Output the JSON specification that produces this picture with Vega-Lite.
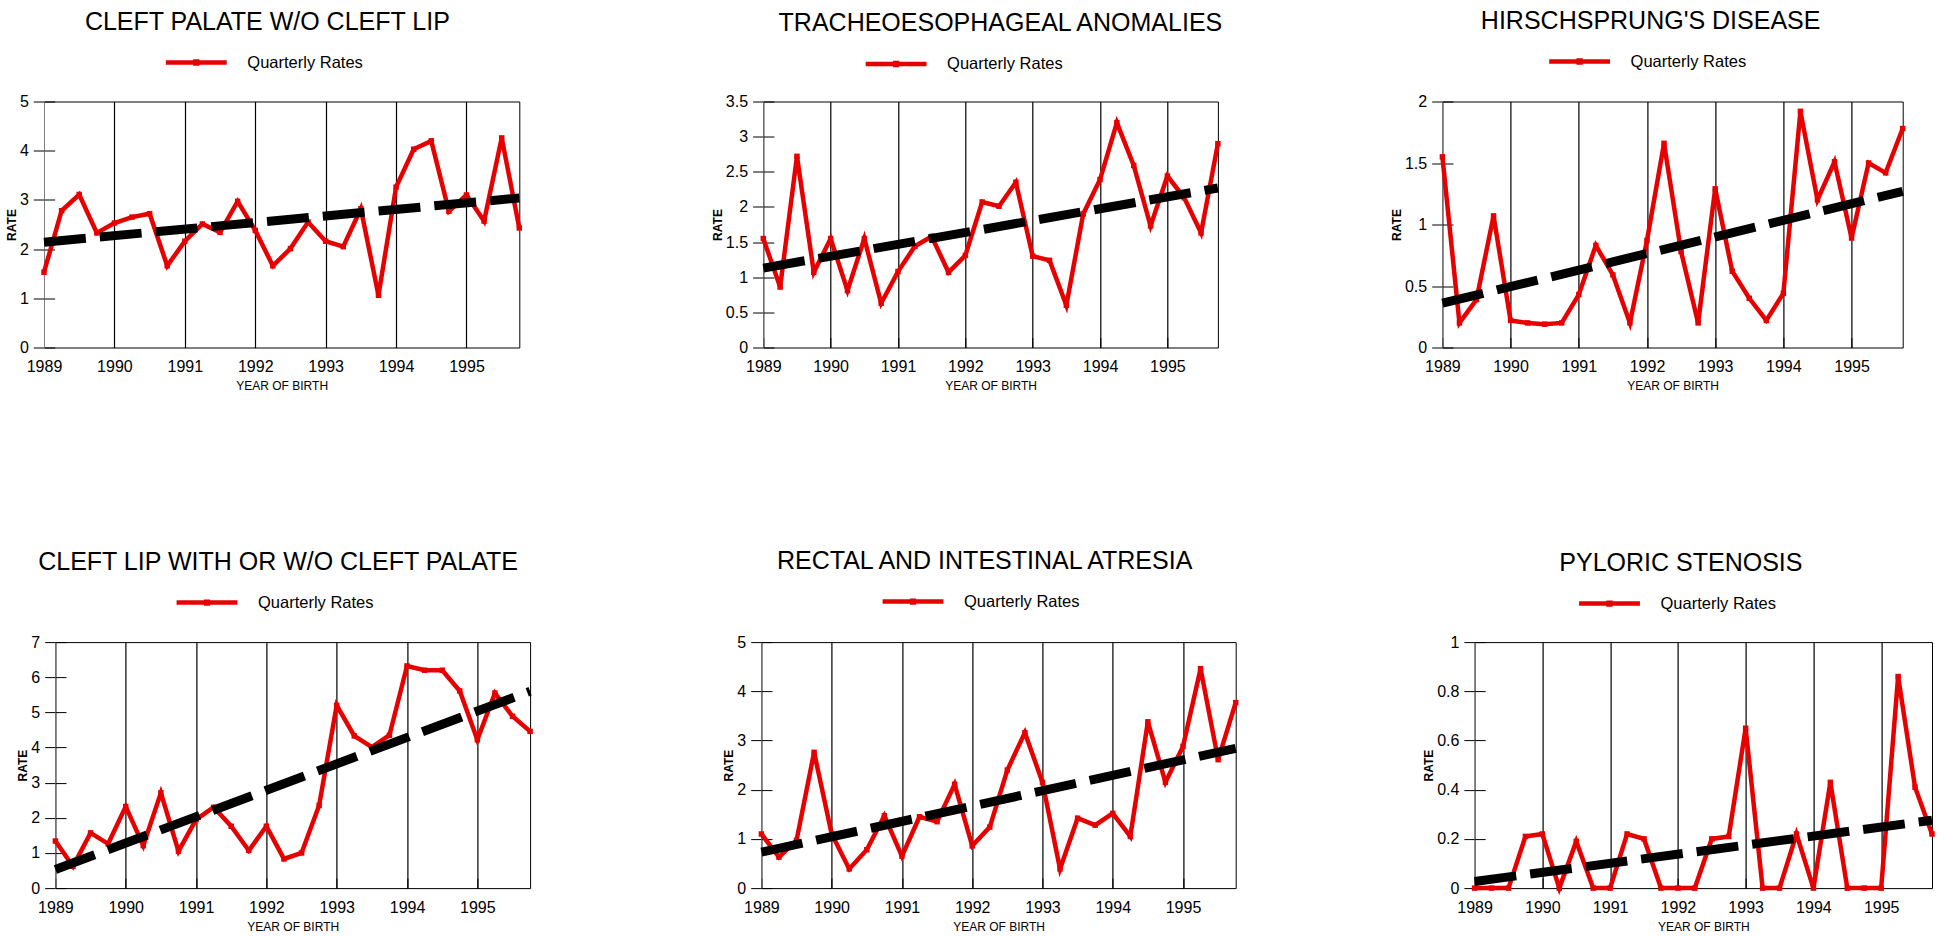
{
"$schema": "https://vega.github.io/schema/vega-lite/v6.json",
"autosize": {"type": "pad"},
"padding": {"left": 4, "top": 7.5, "right": 0, "bottom": 0},
"background": "#ffffff",
"datasets": {
"rates": [
{"panel":1,"time":1989,"rate":1.53},{"panel":1,"time":1989.25,"rate":2.78},{"panel":1,"time":1989.5,"rate":3.11},{"panel":1,"time":1989.75,"rate":2.33},
{"panel":1,"time":1990,"rate":2.53},{"panel":1,"time":1990.25,"rate":2.65},{"panel":1,"time":1990.5,"rate":2.72},{"panel":1,"time":1990.75,"rate":1.66},
{"panel":1,"time":1991,"rate":2.16},{"panel":1,"time":1991.25,"rate":2.51},{"panel":1,"time":1991.5,"rate":2.34},{"panel":1,"time":1991.75,"rate":2.97},
{"panel":1,"time":1992,"rate":2.38},{"panel":1,"time":1992.25,"rate":1.66},{"panel":1,"time":1992.5,"rate":2.01},{"panel":1,"time":1992.75,"rate":2.55},
{"panel":1,"time":1993,"rate":2.16},{"panel":1,"time":1993.25,"rate":2.05},{"panel":1,"time":1993.5,"rate":2.82},{"panel":1,"time":1993.75,"rate":1.06},
{"panel":1,"time":1994,"rate":3.26},{"panel":1,"time":1994.25,"rate":4.03},{"panel":1,"time":1994.5,"rate":4.20},{"panel":1,"time":1994.75,"rate":2.77},
{"panel":1,"time":1995,"rate":3.10},{"panel":1,"time":1995.25,"rate":2.57},{"panel":1,"time":1995.5,"rate":4.26},{"panel":1,"time":1995.75,"rate":2.43},
{"panel":2,"time":1989,"rate":1.55},{"panel":2,"time":1989.25,"rate":0.86},{"panel":2,"time":1989.5,"rate":2.72},{"panel":2,"time":1989.75,"rate":1.07},
{"panel":2,"time":1990,"rate":1.55},{"panel":2,"time":1990.25,"rate":0.81},{"panel":2,"time":1990.5,"rate":1.55},{"panel":2,"time":1990.75,"rate":0.63},
{"panel":2,"time":1991,"rate":1.08},{"panel":2,"time":1991.25,"rate":1.44},{"panel":2,"time":1991.5,"rate":1.58},{"panel":2,"time":1991.75,"rate":1.07},
{"panel":2,"time":1992,"rate":1.31},{"panel":2,"time":1992.25,"rate":2.07},{"panel":2,"time":1992.5,"rate":2.01},{"panel":2,"time":1992.75,"rate":2.35},
{"panel":2,"time":1993,"rate":1.30},{"panel":2,"time":1993.25,"rate":1.24},{"panel":2,"time":1993.5,"rate":0.60},{"panel":2,"time":1993.75,"rate":1.90},
{"panel":2,"time":1994,"rate":2.39},{"panel":2,"time":1994.25,"rate":3.20},{"panel":2,"time":1994.5,"rate":2.59},{"panel":2,"time":1994.75,"rate":1.73},
{"panel":2,"time":1995,"rate":2.44},{"panel":2,"time":1995.25,"rate":2.13},{"panel":2,"time":1995.5,"rate":1.63},{"panel":2,"time":1995.75,"rate":2.90},
{"panel":3,"time":1989,"rate":1.55},{"panel":3,"time":1989.25,"rate":0.20},{"panel":3,"time":1989.5,"rate":0.39},{"panel":3,"time":1989.75,"rate":1.07},
{"panel":3,"time":1990,"rate":0.22},{"panel":3,"time":1990.25,"rate":0.20},{"panel":3,"time":1990.5,"rate":0.19},{"panel":3,"time":1990.75,"rate":0.20},
{"panel":3,"time":1991,"rate":0.43},{"panel":3,"time":1991.25,"rate":0.83},{"panel":3,"time":1991.5,"rate":0.59},{"panel":3,"time":1991.75,"rate":0.20},
{"panel":3,"time":1992,"rate":0.87},{"panel":3,"time":1992.25,"rate":1.66},{"panel":3,"time":1992.5,"rate":0.78},{"panel":3,"time":1992.75,"rate":0.20},
{"panel":3,"time":1993,"rate":1.29},{"panel":3,"time":1993.25,"rate":0.62},{"panel":3,"time":1993.5,"rate":0.40},{"panel":3,"time":1993.75,"rate":0.22},
{"panel":3,"time":1994,"rate":0.44},{"panel":3,"time":1994.25,"rate":1.92},{"panel":3,"time":1994.5,"rate":1.20},{"panel":3,"time":1994.75,"rate":1.51},
{"panel":3,"time":1995,"rate":0.89},{"panel":3,"time":1995.25,"rate":1.50},{"panel":3,"time":1995.5,"rate":1.42},{"panel":3,"time":1995.75,"rate":1.78},
{"panel":4,"time":1989,"rate":1.34},{"panel":4,"time":1989.25,"rate":0.62},{"panel":4,"time":1989.5,"rate":1.57},{"panel":4,"time":1989.75,"rate":1.26},
{"panel":4,"time":1990,"rate":2.32},{"panel":4,"time":1990.25,"rate":1.21},{"panel":4,"time":1990.5,"rate":2.71},{"panel":4,"time":1990.75,"rate":1.05},
{"panel":4,"time":1991,"rate":1.95},{"panel":4,"time":1991.25,"rate":2.30},{"panel":4,"time":1991.5,"rate":1.76},{"panel":4,"time":1991.75,"rate":1.07},
{"panel":4,"time":1992,"rate":1.76},{"panel":4,"time":1992.25,"rate":0.83},{"panel":4,"time":1992.5,"rate":1.00},{"panel":4,"time":1992.75,"rate":2.35},
{"panel":4,"time":1993,"rate":5.20},{"panel":4,"time":1993.25,"rate":4.33},{"panel":4,"time":1993.5,"rate":4.01},{"panel":4,"time":1993.75,"rate":4.35},
{"panel":4,"time":1994,"rate":6.32},{"panel":4,"time":1994.25,"rate":6.20},{"panel":4,"time":1994.5,"rate":6.20},{"panel":4,"time":1994.75,"rate":5.61},
{"panel":4,"time":1995,"rate":4.22},{"panel":4,"time":1995.25,"rate":5.55},{"panel":4,"time":1995.5,"rate":4.89},{"panel":4,"time":1995.75,"rate":4.46},
{"panel":5,"time":1989,"rate":1.10},{"panel":5,"time":1989.25,"rate":0.63},{"panel":5,"time":1989.5,"rate":0.97},{"panel":5,"time":1989.75,"rate":2.76},
{"panel":5,"time":1990,"rate":1.10},{"panel":5,"time":1990.25,"rate":0.39},{"panel":5,"time":1990.5,"rate":0.78},{"panel":5,"time":1990.75,"rate":1.47},
{"panel":5,"time":1991,"rate":0.65},{"panel":5,"time":1991.25,"rate":1.45},{"panel":5,"time":1991.5,"rate":1.35},{"panel":5,"time":1991.75,"rate":2.11},
{"panel":5,"time":1992,"rate":0.86},{"panel":5,"time":1992.25,"rate":1.24},{"panel":5,"time":1992.5,"rate":2.40},{"panel":5,"time":1992.75,"rate":3.16},
{"panel":5,"time":1993,"rate":2.15},{"panel":5,"time":1993.25,"rate":0.39},{"panel":5,"time":1993.5,"rate":1.42},{"panel":5,"time":1993.75,"rate":1.28},
{"panel":5,"time":1994,"rate":1.52},{"panel":5,"time":1994.25,"rate":1.05},{"panel":5,"time":1994.5,"rate":3.38},{"panel":5,"time":1994.75,"rate":2.15},
{"panel":5,"time":1995,"rate":2.88},{"panel":5,"time":1995.25,"rate":4.46},{"panel":5,"time":1995.5,"rate":2.61},{"panel":5,"time":1995.75,"rate":3.77},
{"panel":6,"time":1989,"rate":0},{"panel":6,"time":1989.25,"rate":0},{"panel":6,"time":1989.5,"rate":0},{"panel":6,"time":1989.75,"rate":0.21},
{"panel":6,"time":1990,"rate":0.22},{"panel":6,"time":1990.25,"rate":0},{"panel":6,"time":1990.5,"rate":0.19},{"panel":6,"time":1990.75,"rate":0},
{"panel":6,"time":1991,"rate":0},{"panel":6,"time":1991.25,"rate":0.22},{"panel":6,"time":1991.5,"rate":0.20},{"panel":6,"time":1991.75,"rate":0},
{"panel":6,"time":1992,"rate":0},{"panel":6,"time":1992.25,"rate":0},{"panel":6,"time":1992.5,"rate":0.20},{"panel":6,"time":1992.75,"rate":0.21},
{"panel":6,"time":1993,"rate":0.65},{"panel":6,"time":1993.25,"rate":0},{"panel":6,"time":1993.5,"rate":0},{"panel":6,"time":1993.75,"rate":0.22},
{"panel":6,"time":1994,"rate":0},{"panel":6,"time":1994.25,"rate":0.43},{"panel":6,"time":1994.5,"rate":0},{"panel":6,"time":1994.75,"rate":0},
{"panel":6,"time":1995,"rate":0},{"panel":6,"time":1995.25,"rate":0.86},{"panel":6,"time":1995.5,"rate":0.41},{"panel":6,"time":1995.75,"rate":0.22}
],
"trend": [
{"panel":1,"time":1989,"rate":2.14},{"panel":1,"time":1995.75,"rate":3.04},
{"panel":2,"time":1989,"rate":1.13},{"panel":2,"time":1995.75,"rate":2.27},
{"panel":3,"time":1989,"rate":0.36},{"panel":3,"time":1995.75,"rate":1.27},
{"panel":4,"time":1989,"rate":0.53},{"panel":4,"time":1995.75,"rate":5.6},
{"panel":5,"time":1989,"rate":0.73},{"panel":5,"time":1995.75,"rate":2.84},
{"panel":6,"time":1989,"rate":0.027},{"panel":6,"time":1995.75,"rate":0.276}
],
"blank": [{"k": 0}]
},
"vconcat": [
{
"hconcat": [
{
"width": 475.3, "height": 246,
"title": {"text": "CLEFT PALATE W/O CLEFT LIP", "dx": -14.3},
"layer": [
{"data": {"name": "rates"}, "transform": [{"filter": "datum.panel == 1"}],
"mark": {"type": "line", "strokeWidth": 4.5, "point": {"shape": "square", "size": 30, "filled": true}},
"encoding": {
"x": {"field": "time", "type": "quantitative", "scale": {"domain": [1989, 1995.75], "nice": false, "zero": false},
"axis": {"values": [1989,1989.25,1989.5,1989.75,1990,1990.25,1990.5,1990.75,1991,1991.25,1991.5,1991.75,1992,1992.25,1992.5,1992.75,1993,1993.25,1993.5,1993.75,1994,1994.25,1994.5,1994.75,1995,1995.25,1995.5,1995.75],
"labelExpr": "datum.value % 1 === 0 ? format(datum.value, 'd') : ''", "grid": true, "labelFontSize": 16, "titleFontSize": 12,
"gridOpacity": {"condition": {"test": "datum.value % 1 === 0 && datum.value > 1989", "value": 1}, "value": 0},
"title": "YEAR OF BIRTH"}},
"y": {"field": "rate", "type": "quantitative", "scale": {"domain": [0, 5], "nice": false, "zero": true},
"axis": {"values": [0,1,2,3,4,5], "format": "~g", "tickSize": 10.7, "labelPadding": 5, "labelFontSize": 16, "title": "RATE", "titleFontSize": 12, "titleFontWeight": "bold", "titlePadding": 1, "domainColor": "#808080"}},
"color": {"datum": "Quarterly Rates", "scale": {"range": ["#e60000"]}, "legend": {"title": null, "legendX": 119.3, "legendY": -72}}
}},
{"data": {"name": "trend"}, "transform": [{"filter": "datum.panel == 1"}],
"mark": {"type": "line", "color": "#000000", "strokeWidth": 9, "strokeDash": [42, 14], "strokeCap": "butt"},
"encoding": {
"x": {"field": "time", "type": "quantitative"},
"y": {"field": "rate", "type": "quantitative", "axis": {"values": [0,1,2,3,4,5], "tickSize": -10.6, "labels": false, "domain": false, "title": null, "orient": "left"}}
}}
],
"resolve": {"axis": {"y": "independent"}}
},
{
"hconcat": [
{
"width": 454.6, "height": 246,
"title": {"text": "TRACHEOESOPHAGEAL ANOMALIES", "dx": 9.8},
"layer": [
{"data": {"name": "rates"}, "transform": [{"filter": "datum.panel == 2"}],
"mark": {"type": "line", "strokeWidth": 4.5, "point": {"shape": "square", "size": 30, "filled": true}},
"encoding": {
"x": {"field": "time", "type": "quantitative", "scale": {"domain": [1989, 1995.75], "nice": false, "zero": false},
"axis": {"values": [1989,1989.25,1989.5,1989.75,1990,1990.25,1990.5,1990.75,1991,1991.25,1991.5,1991.75,1992,1992.25,1992.5,1992.75,1993,1993.25,1993.5,1993.75,1994,1994.25,1994.5,1994.75,1995,1995.25,1995.5,1995.75],
"labelExpr": "datum.value % 1 === 0 ? format(datum.value, 'd') : ''", "grid": true, "labelFontSize": 16, "titleFontSize": 12,
"gridOpacity": {"condition": {"test": "datum.value % 1 === 0 && datum.value > 1989", "value": 1}, "value": 0},
"title": "YEAR OF BIRTH"}},
"y": {"field": "rate", "type": "quantitative", "scale": {"domain": [0, 3.5], "nice": false, "zero": true},
"axis": {"values": [0,0.5,1,1.5,2,2.5,3,3.5], "format": "~g", "tickSize": 10.7, "labelPadding": 5, "labelFontSize": 16, "title": "RATE", "titleFontSize": 12, "titleFontWeight": "bold", "titlePadding": 1, "domainColor": "#808080"}},
"color": {"datum": "Quarterly Rates", "scale": {"range": ["#e60000"]}, "legend": {"title": null, "legendX": 99.8, "legendY": -70.5}}
}},
{"data": {"name": "trend"}, "transform": [{"filter": "datum.panel == 2"}],
"mark": {"type": "line", "color": "#000000", "strokeWidth": 9, "strokeDash": [42, 14], "strokeCap": "butt"},
"encoding": {
"x": {"field": "time", "type": "quantitative"},
"y": {"field": "rate", "type": "quantitative", "axis": {"values": [0,0.5,1,1.5,2,2.5,3,3.5], "tickSize": -10.6, "labels": false, "domain": false, "title": null, "orient": "left"}}
}}
],
"resolve": {"axis": {"y": "independent"}}
},
{
"width": 460.3, "height": 246,
"title": {"text": "HIRSCHSPRUNG'S DISEASE", "dx": -21.9},
"layer": [
{"data": {"name": "rates"}, "transform": [{"filter": "datum.panel == 3"}],
"mark": {"type": "line", "strokeWidth": 4.5, "point": {"shape": "square", "size": 30, "filled": true}},
"encoding": {
"x": {"field": "time", "type": "quantitative", "scale": {"domain": [1989, 1995.75], "nice": false, "zero": false},
"axis": {"values": [1989,1989.25,1989.5,1989.75,1990,1990.25,1990.5,1990.75,1991,1991.25,1991.5,1991.75,1992,1992.25,1992.5,1992.75,1993,1993.25,1993.5,1993.75,1994,1994.25,1994.5,1994.75,1995,1995.25,1995.5,1995.75],
"labelExpr": "datum.value % 1 === 0 ? format(datum.value, 'd') : ''", "grid": true, "labelFontSize": 16, "titleFontSize": 12,
"gridOpacity": {"condition": {"test": "datum.value % 1 === 0 && datum.value > 1989", "value": 1}, "value": 0},
"title": "YEAR OF BIRTH"}},
"y": {"field": "rate", "type": "quantitative", "scale": {"domain": [0, 2], "nice": false, "zero": true},
"axis": {"values": [0,0.5,1,1.5,2], "format": "~g", "tickSize": 10.7, "labelPadding": 5, "labelFontSize": 16, "title": "RATE", "titleFontSize": 12, "titleFontWeight": "bold", "titlePadding": 1, "domainColor": "#808080"}},
"color": {"datum": "Quarterly Rates", "scale": {"range": ["#e60000"]}, "legend": {"title": null, "legendX": 104.2, "legendY": -73}}
}},
{"data": {"name": "trend"}, "transform": [{"filter": "datum.panel == 3"}],
"mark": {"type": "line", "color": "#000000", "strokeWidth": 9, "strokeDash": [42, 14], "strokeCap": "butt"},
"encoding": {
"x": {"field": "time", "type": "quantitative"},
"y": {"field": "rate", "type": "quantitative", "axis": {"values": [0,0.5,1,1.5,2], "tickSize": -10.6, "labels": false, "domain": false, "title": null, "orient": "left"}}
}}
],
"resolve": {"axis": {"y": "independent"}}
}
],
"spacing": 224.1, "bounds": "flush",
"resolve": {"scale": {"color": "independent"}, "legend": {"color": "independent"}}
}
],
"spacing": 243.3, "bounds": "flush",
"resolve": {"scale": {"color": "independent"}, "legend": {"color": "independent"}}
},
{
"hconcat": [
{"width": 1, "height": 1, "data": {"name": "blank"}, "mark": {"type": "point", "opacity": 0}, "view": {"stroke": null}},
{
"hconcat": [
{
"width": 474.7, "height": 246,
"title": {"text": "CLEFT LIP WITH OR W/O CLEFT PALATE", "dx": -14.7},
"layer": [
{"data": {"name": "rates"}, "transform": [{"filter": "datum.panel == 4"}],
"mark": {"type": "line", "strokeWidth": 4.5, "point": {"shape": "square", "size": 30, "filled": true}},
"encoding": {
"x": {"field": "time", "type": "quantitative", "scale": {"domain": [1989, 1995.75], "nice": false, "zero": false},
"axis": {"values": [1989,1989.25,1989.5,1989.75,1990,1990.25,1990.5,1990.75,1991,1991.25,1991.5,1991.75,1992,1992.25,1992.5,1992.75,1993,1993.25,1993.5,1993.75,1994,1994.25,1994.5,1994.75,1995,1995.25,1995.5,1995.75],
"labelExpr": "datum.value % 1 === 0 ? format(datum.value, 'd') : ''", "grid": true, "labelFontSize": 16, "titleFontSize": 12,
"gridOpacity": {"condition": {"test": "datum.value % 1 === 0 && datum.value > 1989", "value": 1}, "value": 0},
"title": "YEAR OF BIRTH"}},
"y": {"field": "rate", "type": "quantitative", "scale": {"domain": [0, 7], "nice": false, "zero": true},
"axis": {"values": [0,1,2,3,4,5,6,7], "format": "~g", "tickSize": 10.7, "labelPadding": 5, "labelFontSize": 16, "title": "RATE", "titleFontSize": 12, "titleFontWeight": "bold", "titlePadding": 1, "domainColor": "#808080"}},
"color": {"datum": "Quarterly Rates", "scale": {"range": ["#e60000"]}, "legend": {"title": null, "legendX": 118.6, "legendY": -72.5}}
}},
{"data": {"name": "trend"}, "transform": [{"filter": "datum.panel == 4"}],
"mark": {"type": "line", "color": "#000000", "strokeWidth": 9, "strokeDash": [42, 14], "strokeCap": "butt"},
"encoding": {
"x": {"field": "time", "type": "quantitative"},
"y": {"field": "rate", "type": "quantitative", "axis": {"values": [0,1,2,3,4,5,6,7], "tickSize": -10.6, "labels": false, "domain": false, "title": null, "orient": "left"}}
}}
],
"resolve": {"axis": {"y": "independent"}}
},
{
"hconcat": [
{
"width": 474.3, "height": 246,
"title": {"text": "RECTAL AND INTESTINAL ATRESIA", "dx": -13.9},
"layer": [
{"data": {"name": "rates"}, "transform": [{"filter": "datum.panel == 5"}],
"mark": {"type": "line", "strokeWidth": 4.5, "point": {"shape": "square", "size": 30, "filled": true}},
"encoding": {
"x": {"field": "time", "type": "quantitative", "scale": {"domain": [1989, 1995.75], "nice": false, "zero": false},
"axis": {"values": [1989,1989.25,1989.5,1989.75,1990,1990.25,1990.5,1990.75,1991,1991.25,1991.5,1991.75,1992,1992.25,1992.5,1992.75,1993,1993.25,1993.5,1993.75,1994,1994.25,1994.5,1994.75,1995,1995.25,1995.5,1995.75],
"labelExpr": "datum.value % 1 === 0 ? format(datum.value, 'd') : ''", "grid": true, "labelFontSize": 16, "titleFontSize": 12,
"gridOpacity": {"condition": {"test": "datum.value % 1 === 0 && datum.value > 1989", "value": 1}, "value": 0},
"title": "YEAR OF BIRTH"}},
"y": {"field": "rate", "type": "quantitative", "scale": {"domain": [0, 5], "nice": false, "zero": true},
"axis": {"values": [0,1,2,3,4,5], "format": "~g", "tickSize": 10.7, "labelPadding": 5, "labelFontSize": 16, "title": "RATE", "titleFontSize": 12, "titleFontWeight": "bold", "titlePadding": 1, "domainColor": "#808080"}},
"color": {"datum": "Quarterly Rates", "scale": {"range": ["#e60000"]}, "legend": {"title": null, "legendX": 118.6, "legendY": -73.5}}
}},
{"data": {"name": "trend"}, "transform": [{"filter": "datum.panel == 5"}],
"mark": {"type": "line", "color": "#000000", "strokeWidth": 9, "strokeDash": [42, 14], "strokeCap": "butt"},
"encoding": {
"x": {"field": "time", "type": "quantitative"},
"y": {"field": "rate", "type": "quantitative", "axis": {"values": [0,1,2,3,4,5], "tickSize": -10.6, "labels": false, "domain": false, "title": null, "orient": "left"}}
}}
],
"resolve": {"axis": {"y": "independent"}}
},
{
"width": 457.4, "height": 246,
"title": {"text": "PYLORIC STENOSIS", "dx": -22.4},
"layer": [
{"data": {"name": "rates"}, "transform": [{"filter": "datum.panel == 6"}],
"mark": {"type": "line", "strokeWidth": 4.5, "point": {"shape": "square", "size": 30, "filled": true}},
"encoding": {
"x": {"field": "time", "type": "quantitative", "scale": {"domain": [1989, 1995.75], "nice": false, "zero": false},
"axis": {"values": [1989,1989.25,1989.5,1989.75,1990,1990.25,1990.5,1990.75,1991,1991.25,1991.5,1991.75,1992,1992.25,1992.5,1992.75,1993,1993.25,1993.5,1993.75,1994,1994.25,1994.5,1994.75,1995,1995.25,1995.5,1995.75],
"labelExpr": "datum.value % 1 === 0 ? format(datum.value, 'd') : ''", "grid": true, "labelFontSize": 16, "titleFontSize": 12,
"gridOpacity": {"condition": {"test": "datum.value % 1 === 0 && datum.value > 1989", "value": 1}, "value": 0},
"title": "YEAR OF BIRTH"}},
"y": {"field": "rate", "type": "quantitative", "scale": {"domain": [0, 1], "nice": false, "zero": true},
"axis": {"values": [0,0.2,0.4,0.6,0.8,1], "format": "~g", "tickSize": 10.7, "labelPadding": 5, "labelFontSize": 16, "title": "RATE", "titleFontSize": 12, "titleFontWeight": "bold", "titlePadding": 1, "domainColor": "#808080"}},
"color": {"datum": "Quarterly Rates", "scale": {"range": ["#e60000"]}, "legend": {"title": null, "legendX": 101.9, "legendY": -71.5}}
}},
{"data": {"name": "trend"}, "transform": [{"filter": "datum.panel == 6"}],
"mark": {"type": "line", "color": "#000000", "strokeWidth": 9, "strokeDash": [42, 14], "strokeCap": "butt"},
"encoding": {
"x": {"field": "time", "type": "quantitative"},
"y": {"field": "rate", "type": "quantitative", "axis": {"values": [0,0.2,0.4,0.6,0.8,1], "tickSize": -10.6, "labels": false, "domain": false, "title": null, "orient": "left"}}
}}
],
"resolve": {"axis": {"y": "independent"}}
}
],
"spacing": 238.2, "bounds": "flush",
"resolve": {"scale": {"color": "independent"}, "legend": {"color": "independent"}}
}
],
"spacing": 231, "bounds": "flush",
"resolve": {"scale": {"color": "independent"}, "legend": {"color": "independent"}}
}
],
"spacing": 10.4, "bounds": "flush",
"resolve": {"scale": {"color": "independent"}, "legend": {"color": "independent"}}
}
],
"spacing": 540.6, "bounds": "flush",
"resolve": {"scale": {"color": "independent"}, "legend": {"color": "independent"}},
"config": {
"font": "Liberation Sans",
"view": {"stroke": "#000000", "strokeWidth": 1},
"title": {"font": "Liberation Sans", "fontSize": 25, "fontWeight": "normal", "color": "#000000", "anchor": "middle", "frame": "group", "baseline": "alphabetic", "offset": -5},
"axis": {"labelFont": "Liberation Sans", "labelFontSize": 16, "labelColor": "#000000", "tickColor": "#000000", "titleFont": "Liberation Sans", "titleColor": "#000000", "labelFlush": false, "labelOverlap": false, "grid": false},
"axisX": {"tickSize": -10, "labelPadding": 21, "titleFontSize": 12, "titleFontWeight": "normal", "titlePadding": 6, "domain": false, "gridColor": "#000000", "gridWidth": 1.2},
"axisY": {"titleFontSize": 12, "titleFontWeight": "bold"},
"legend": {"orient": "none", "padding": 0, "labelFont": "Liberation Sans", "labelFontSize": 16.5, "labelColor": "#000000", "symbolType": "M-1,0L1,0M-0.03,-0.03L0.03,-0.03L0.03,0.03L-0.03,0.03Z", "symbolSize": 3700, "symbolStrokeWidth": 4.5, "labelOffset": 18}
}
}
